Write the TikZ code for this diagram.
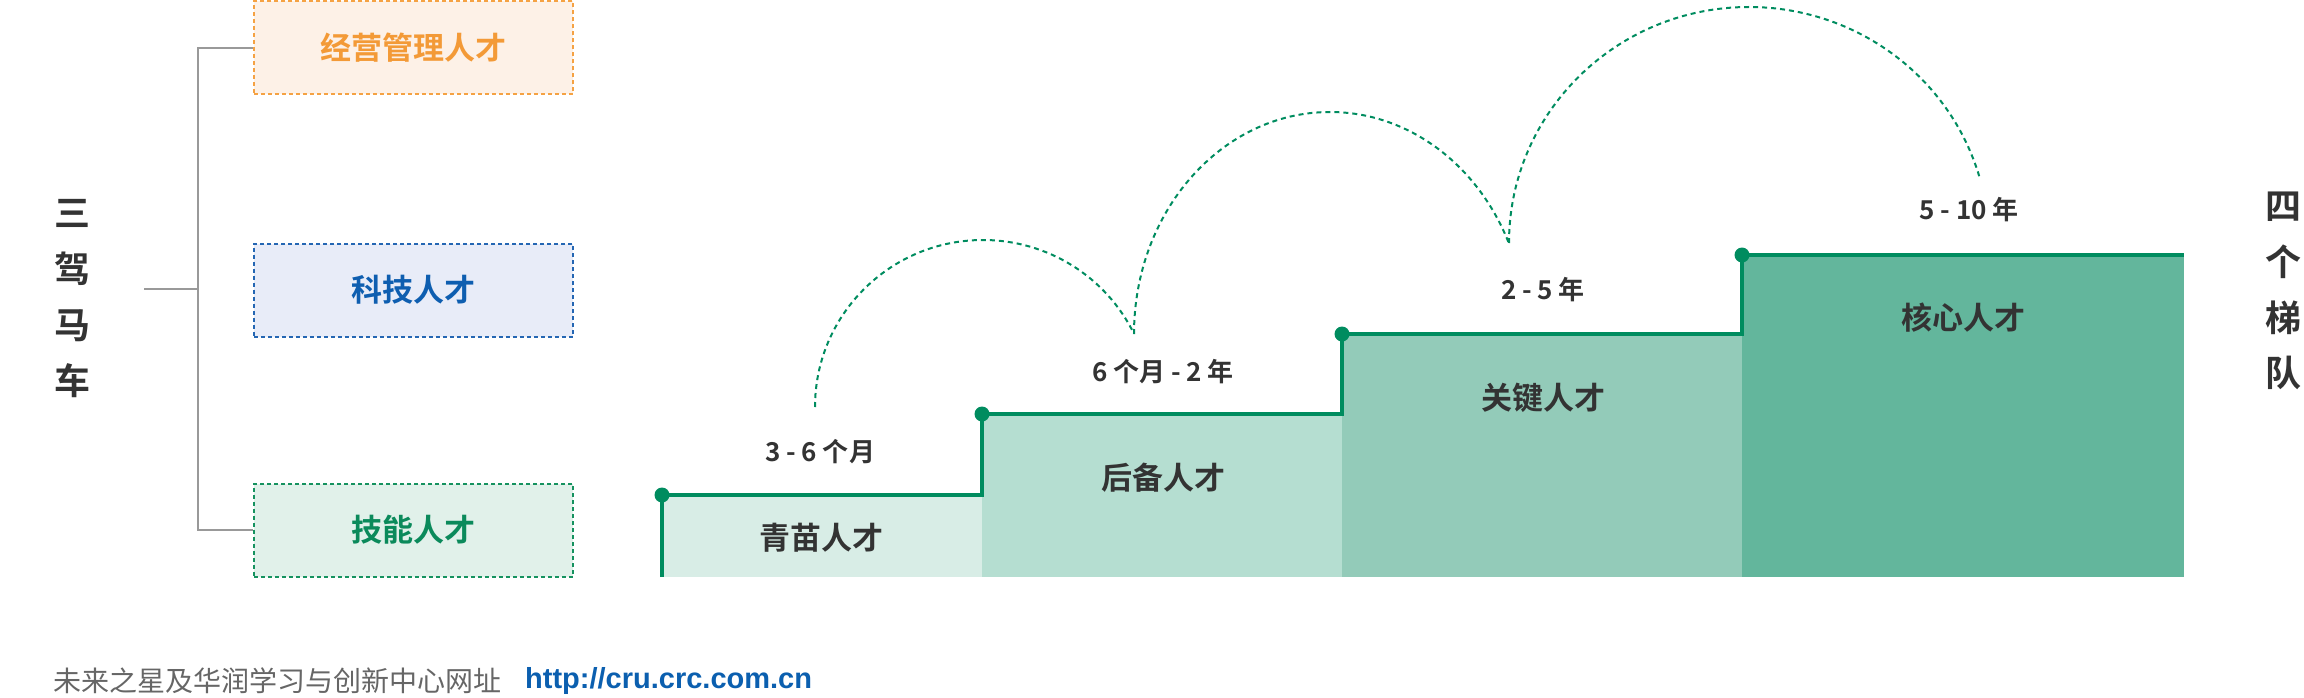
\documentclass[tikz,border=0pt]{standalone}
\usepackage{fontspec}
\setmainfont{Liberation Sans}
\newfontfamily\cjk{Noto Sans CJK SC}
\newfontfamily\cjkb{Noto Sans CJK SC Bold}
\definecolor{gline}{HTML}{008C5F}
\definecolor{fa}{HTML}{D8EDE6}
\definecolor{fb}{HTML}{B5DED1}
\definecolor{fc}{HTML}{93CBB9}
\definecolor{fd}{HTML}{63B69C}
\definecolor{txt}{HTML}{333333}
\definecolor{oline}{HTML}{F5A243}
\definecolor{ofill}{HTML}{FDF1E7}
\definecolor{otxt}{HTML}{F39A37}
\definecolor{bline}{HTML}{2466B3}
\definecolor{bfill}{HTML}{E8ECF8}
\definecolor{btxt}{HTML}{0E5EB0}
\definecolor{gfill}{HTML}{E1F1EA}
\definecolor{gtxt}{HTML}{0B8A5B}
\definecolor{gbox}{HTML}{15925F}
\definecolor{brk}{HTML}{999999}
\definecolor{foot}{HTML}{666666}
\definecolor{urlc}{HTML}{0B5FAF}
\tikzset{
  catbox/.style={draw, line width=2pt, dash pattern=on 4pt off 3pt, minimum width=319pt, minimum height=93pt, inner sep=0pt, font=\cjkb\fontsize{31}{31}\selectfont},
  vtext/.style={align=center, inner sep=0pt, text=txt, font=\cjkb\fontsize{36}{55.7}\selectfont},
  lab/.style={inner sep=0pt, text=txt, font=\cjkb\fontsize{26}{26}\selectfont},
  tname/.style={inner sep=0pt, text=txt, font=\cjkb\fontsize{31}{31}\selectfont},
  stair/.style={gline, line width=4pt},
  jump/.style={gline, line width=2pt, dash pattern=on 5pt off 4pt},
  brline/.style={brk, line width=2pt},
  dotc/.style={circle, fill=gline, inner sep=0pt, minimum size=15pt}
}
\begin{document}
\begin{tikzpicture}[x=1pt,y=-1pt]
\useasboundingbox (0,0) rectangle (2304,698);
% left category boxes
\node[catbox, draw=oline, fill=ofill, text=otxt] (mgmt) at (413.5,48) {经营管理人才};
\node[catbox, draw=bline, fill=bfill, text=btxt] (tech) at (413.5,290) {科技人才};
\node[catbox, draw=gbox, fill=gfill, text=gtxt] (skill) at (413.5,530) {技能人才};
\coordinate (bx) at (198,0);
\coordinate (stub) at (144,289);
\draw[brline] (mgmt.west) -- (bx|-mgmt.west) -- (bx|-skill.west) -- (skill.west);
\draw[brline] (stub) -- (bx|-stub);
\node[vtext] (sjmc) at (72,298.5) {三\\驾\\马\\车};
\node[vtext] (sgtd) at (2283,291) {四\\个\\梯\\队};
% stair fills
\fill[fa] (662,495) rectangle (982,577);
\fill[fb] (982,414) rectangle (1342,577);
\fill[fc] (1342,334) rectangle (1742,577);
\fill[fd] (1742,255) rectangle (2184,577);
% stair line
\coordinate (b0) at (662,577);
\coordinate (d1) at (662,495);
\coordinate (d2) at (982,414);
\coordinate (d3) at (1342,334);
\coordinate (d4) at (1742,255);
\coordinate (e4) at (2184,255);
\draw[stair] (b0) -- (d1) -| (d2) -| (d3) -| (d4) -- (e4);
\node[dotc] (p1) at (d1) {};
\node[dotc] (p2) at (d2) {};
\node[dotc] (p3) at (d3) {};
\node[dotc] (p4) at (d4) {};
% names
\node[tname] (n1) at (821,538) {青苗人才};
\node[tname] (n2) at (1163,478) {后备人才};
\node[tname] (n3) at (1543,398) {关键人才};
\node[tname] (n4) at (1963,318) {核心人才};
% durations
\node[lab] (l1) at (820,452) {3 - 6 个月};
\node[lab] (l2) at (1163,372) {6 个月 - 2 年};
\node[lab] (l3) at (1543,290) {2 - 5 年};
\node[lab] (l4) at (1969,210) {5 - 10 年};
% jump arcs
\coordinate (a0) at (815,407);
\coordinate (a1) at (1134,334);
\coordinate (a2) at (1509,243);
\draw[jump] (a0) arc[start angle=180, end angle=26, x radius=168pt, y radius=167pt];
\draw[jump] (a1) arc[start angle=180, end angle=24, x radius=196pt, y radius=222pt];
\draw[jump] (a2) arc[start angle=180, end angle=16, x radius=240pt, y radius=236pt];
% footer
\node[anchor=west, inner sep=0pt, text=foot, font=\cjk\fontsize{28}{28}\selectfont] (ft) at (53,681) {未来之星及华润学习与创新中心网址};
\node[anchor=west, inner sep=0pt, text=urlc, font=\bfseries\fontsize{29}{29}\selectfont] (url) at (525,681) {http://cru.crc.com.cn};
\end{tikzpicture}
\end{document}
